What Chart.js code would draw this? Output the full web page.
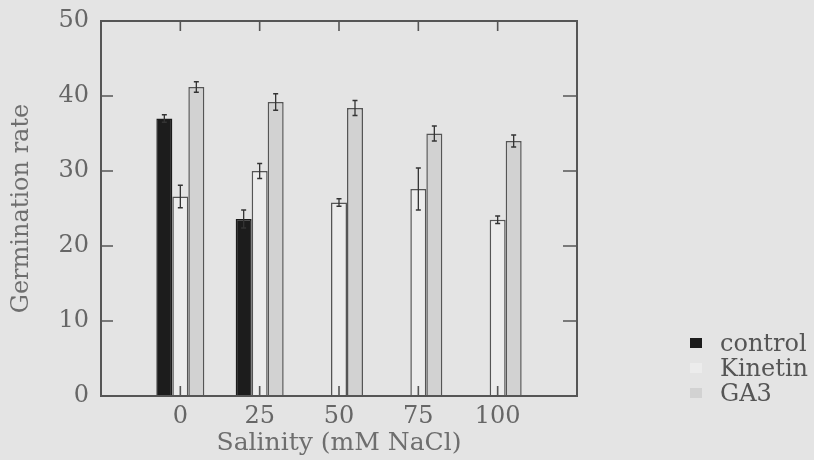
<!DOCTYPE html>
<html>
<head>
<meta charset="utf-8">
<script src="https://cdn.jsdelivr.net/npm/chart.js@4.4.1/dist/chart.umd.min.js"></script>
<style>
  html, body { margin: 0; padding: 0; background: #e4e4e4; }
  #wrap { position: relative; width: 814px; height: 460px; }
  #legend { position: absolute; left: 690px; top: 330px; font-family: "DejaVu Serif", serif; font-size: 24px; color: #555; }
  .item { display: flex; align-items: center; height: 25px; white-space: nowrap; }
  .swatch { width: 12px; height: 10px; margin-right: 18px; flex: none; }
</style>
</head>
<body>
<div id="wrap">
  <canvas id="c"></canvas>
  <div id="legend"></div>
</div>
<script>
// Germination rate under salinity, three treatments, with standard errors
const salinity    = [0, 25, 50, 75, 100];
const seriesNames = ['control', 'Kinetin', 'GA3'];
const controlRate = [37.0, 23.6, null, null, null];
const controlErr  = [0.5, 1.2, null, null, null];
const kinetinRate = [26.6, 30.0, 25.8, 27.6, 23.5];
const kinetinErr  = [1.5, 1.0, 0.5, 2.8, 0.5];
const ga3Rate     = [41.2, 39.2, 38.4, 35.0, 34.0];
const ga3Err      = [0.7, 1.1, 1.0, 1.0, 0.8];

const FONT = '"DejaVu Serif", serif';
const EDGE = '#555555';

const toPoints = vals => salinity.map((x, i) => ({ x, y: vals[i] }));

// error bars drawn from each dataset's own error list
const errorBars = {
  id: 'errorBars',
  afterDatasetsDraw(chart) {
    const { ctx } = chart;
    const y = chart.scales.y;
    chart.data.datasets.forEach((ds, i) => {
      const meta = chart.getDatasetMeta(i);
      meta.data.forEach((bar, j) => {
        const v = ds.data[j].y, e = ds.errors[j];
        if (v == null || e == null) return;
        const top = y.getPixelForValue(v + e);
        const bot = y.getPixelForValue(v - e);
        ctx.save();
        ctx.strokeStyle = '#333';
        ctx.lineWidth = 1.3;
        ctx.beginPath();
        ctx.moveTo(bar.x, top); ctx.lineTo(bar.x, bot);
        ctx.moveTo(bar.x - 2.5, top); ctx.lineTo(bar.x + 2.5, top);
        ctx.moveTo(bar.x - 2.5, bot); ctx.lineTo(bar.x + 2.5, bot);
        ctx.stroke();
        ctx.restore();
      });
    });
  }
};

// box frame with inward tick marks on all four sides
const frame = {
  id: 'frame',
  afterDatasetsDraw(chart) {
    const { ctx, chartArea: a } = chart;
    const { x, y } = chart.scales;
    ctx.save();
    ctx.strokeStyle = EDGE;
    ctx.lineWidth = 2;
    ctx.strokeRect(a.left, a.top, a.right - a.left, a.bottom - a.top);
    ctx.lineWidth = 1.6;
    ctx.beginPath();
    y.ticks.forEach(t => {
      const py = y.getPixelForValue(t.value);
      if (t.value <= y.min || t.value >= y.max) return;
      ctx.moveTo(a.left, py); ctx.lineTo(a.left + 12, py);
      ctx.moveTo(a.right, py); ctx.lineTo(a.right - 14, py);
    });
    x.ticks.forEach(t => {
      const px = x.getPixelForValue(t.value);
      ctx.moveTo(px, a.top); ctx.lineTo(px, a.top + 10);
      ctx.moveTo(px, a.bottom); ctx.lineTo(px, a.bottom - 10);
    });
    ctx.stroke();
    ctx.restore();
  }
};

const fills   = ['#1c1c1c', '#ececec', '#d2d2d2'];
const borders = ['#1c1c1c', EDGE, EDGE];

const chart = new Chart(document.getElementById('c'), {
  type: 'bar',
  data: {
    datasets: [
      { label: seriesNames[0], data: toPoints(controlRate), errors: controlErr },
      { label: seriesNames[1], data: toPoints(kinetinRate), errors: kinetinErr },
      { label: seriesNames[2], data: toPoints(ga3Rate), errors: ga3Err }
    ].map((d, i) => Object.assign(d, {
      backgroundColor: fills[i],
      borderColor: borders[i],
      borderWidth: 1.5,
      categoryPercentage: 0.605,
      barPercentage: 1
    }))
  },
  options: {
    responsive: true,
    maintainAspectRatio: false,
    animation: false,
    layout: { padding: { left: 3, top: 21, right: 237, bottom: 0 } },
    plugins: { legend: { display: false }, tooltip: { enabled: false } },
    scales: {
      x: {
        type: 'linear',
        min: -25, max: 125,
        offset: false,
        grid: { display: false, drawTicks: false },
        border: { display: false },
        afterBuildTicks: s => { s.ticks = s.ticks.filter(t => t.value >= 0 && t.value <= 100); },
        afterFit: s => { s.height = 64; },
        ticks: { stepSize: 25, padding: 6, color: '#666', font: { family: FONT, size: 24 }, maxRotation: 0 },
        title: { display: true, text: 'Salinity (mM NaCl)', color: '#6e6e6e', font: { family: FONT, size: 25 }, padding: { top: 0, bottom: 2 } }
      },
      y: {
        min: 0, max: 50,
        grid: { display: false, drawTicks: false },
        border: { display: false },
        ticks: { stepSize: 10, padding: 12, color: '#666', font: { family: FONT, size: 24 } },
        title: { display: true, text: 'Germination rate', color: '#6e6e6e', font: { family: FONT, size: 24 }, padding: { top: 4, bottom: 4 } },
        afterFit: s => { s.width = 98; s.paddingTop = 0; s.paddingBottom = 0; }
      }
    }
  },
  plugins: [errorBars, frame]
});

// legend built from the datasets
const legend = document.getElementById('legend');
chart.data.datasets.forEach(ds => {
  const row = document.createElement('div');
  row.className = 'item';
  const sw = document.createElement('span');
  sw.className = 'swatch';
  sw.style.background = ds.backgroundColor;
  const tx = document.createElement('span');
  tx.textContent = ds.label;
  row.appendChild(sw); row.appendChild(tx);
  legend.appendChild(row);
});
</script>
</body>
</html>
